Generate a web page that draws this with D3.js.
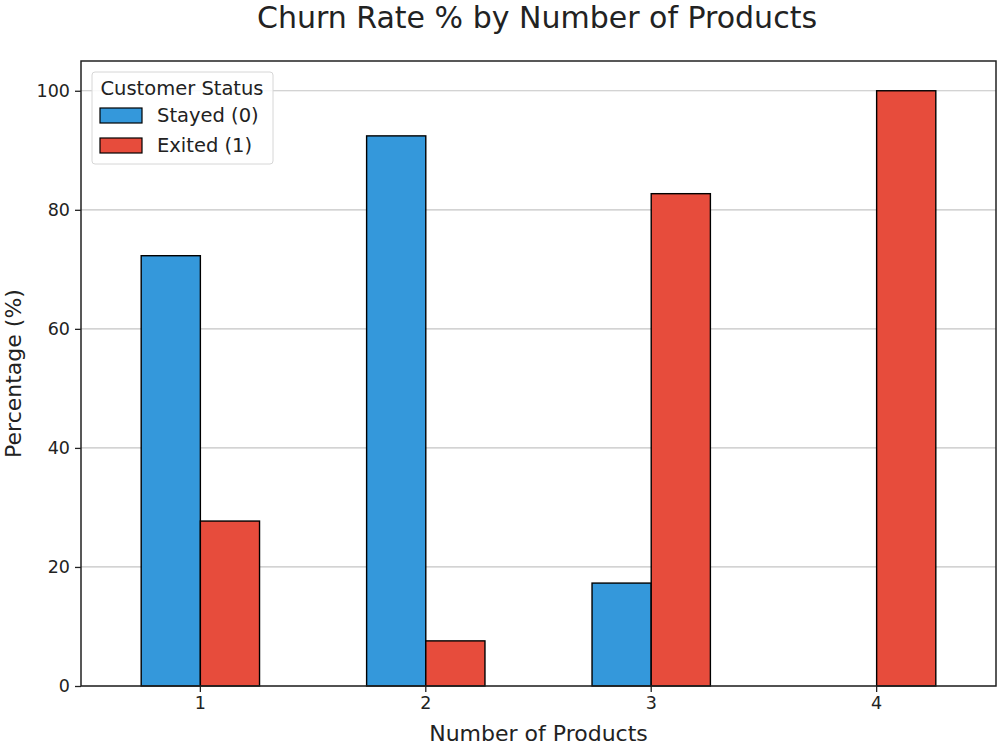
<!DOCTYPE html>
<html>
<head>
<meta charset="utf-8">
<script src="https://cdn.jsdelivr.net/npm/d3@7"></script>
<style>
  body { margin: 0; background: #fff; }
  text { font-family: "DejaVu Sans", sans-serif; fill: #222; }
</style>
</head>
<body>
<svg id="chart" width="1000" height="750"></svg>
<script>
// data
var products = ["1", "2", "3", "4"];
var stayed = [72.29, 92.42, 17.29, 0];
var exited = [27.71, 7.58, 82.71, 100];
var seriesNames = ["Stayed (0)", "Exited (1)"];
var seriesColors = ["#3498db", "#e74c3c"];
var yTicks = [0, 20, 40, 60, 80, 100];

// plot box (window.top is taken, so own names)
var plotLeft = 81, plotRight = 996, plotTop = 61, plotBottom = 686;

var svg = d3.select("#chart");

var x = d3.scaleBand()
    .domain(products)
    .range([plotLeft, plotRight])
    .paddingInner(0.475)
    .paddingOuter(0.267);

var y = d3.scaleLinear()
    .domain([0, 105])
    .range([plotBottom, plotTop]);

// grid
svg.append("g")
    .selectAll("line")
    .data(yTicks)
    .join("line")
    .attr("x1", plotLeft)
    .attr("x2", plotRight)
    .attr("y1", function (d) { return y(d); })
    .attr("y2", function (d) { return y(d); })
    .attr("stroke", "#c4c4c4")
    .attr("stroke-width", 1.2);

// bars
var half = x.bandwidth() / 2;
var allSeries = [stayed, exited];
allSeries.forEach(function (vals, s) {
    svg.append("g")
        .selectAll("rect")
        .data(vals)
        .join("rect")
        .attr("x", function (d, i) { return x(products[i]) + s * half; })
        .attr("y", function (d) { return y(d); })
        .attr("width", half)
        .attr("height", function (d) { return plotBottom - y(d); })
        .attr("fill", seriesColors[s])
        .attr("stroke", "#000")
        .attr("stroke-width", function (d) { return d > 0 ? 1.4 : 0; });
});

// axes
var xAxis = svg.append("g")
    .attr("transform", "translate(0," + plotBottom + ")")
    .call(d3.axisBottom(x).tickSize(6).tickSizeOuter(0).tickPadding(5));

var yAxis = svg.append("g")
    .attr("transform", "translate(" + plotLeft + ",0)")
    .call(d3.axisLeft(y).tickValues(yTicks).tickSize(6).tickSizeOuter(0).tickPadding(5));

[xAxis, yAxis].forEach(function (a) {
    a.select(".domain").remove();
    a.selectAll("line").attr("stroke", "#222").attr("stroke-width", 1.3);
    a.selectAll("text")
        .attr("font-family", "DejaVu Sans")
        .attr("font-size", "17.5px")
        .attr("fill", "#222");
});

// frame
svg.append("rect")
    .attr("x", plotLeft)
    .attr("y", plotTop)
    .attr("width", plotRight - plotLeft)
    .attr("height", plotBottom - plotTop)
    .attr("fill", "none")
    .attr("stroke", "#222")
    .attr("stroke-width", 1.5);

// titles
svg.append("text")
    .attr("x", 537)
    .attr("y", 28)
    .attr("text-anchor", "middle")
    .attr("font-size", "30px")
    .text("Churn Rate % by Number of Products");

svg.append("text")
    .attr("x", (plotLeft + plotRight) / 2)
    .attr("y", 741)
    .attr("text-anchor", "middle")
    .attr("font-size", "22px")
    .text("Number of Products");

svg.append("text")
    .attr("transform", "translate(21," + ((plotTop + plotBottom) / 2) + ") rotate(-90)")
    .attr("text-anchor", "middle")
    .attr("font-size", "22px")
    .text("Percentage (%)");

// legend
var legend = svg.append("g").attr("transform", "translate(92,72)");
legend.append("rect")
    .attr("width", 181)
    .attr("height", 92)
    .attr("rx", 3)
    .attr("fill", "#fff")
    .attr("fill-opacity", 0.85)
    .attr("stroke", "#d6d6d6");
legend.append("text")
    .attr("x", 90)
    .attr("y", 23)
    .attr("text-anchor", "middle")
    .attr("font-size", "19.5px")
    .text("Customer Status");
seriesNames.forEach(function (name, i) {
    legend.append("rect")
        .attr("x", 8)
        .attr("y", 36 + i * 30)
        .attr("width", 42)
        .attr("height", 15)
        .attr("fill", seriesColors[i])
        .attr("stroke", "#000")
        .attr("stroke-width", 1.2);
    legend.append("text")
        .attr("x", 65)
        .attr("y", 50 + i * 30)
        .attr("font-size", "19.5px")
        .text(name);
});
</script>
</body>
</html>
